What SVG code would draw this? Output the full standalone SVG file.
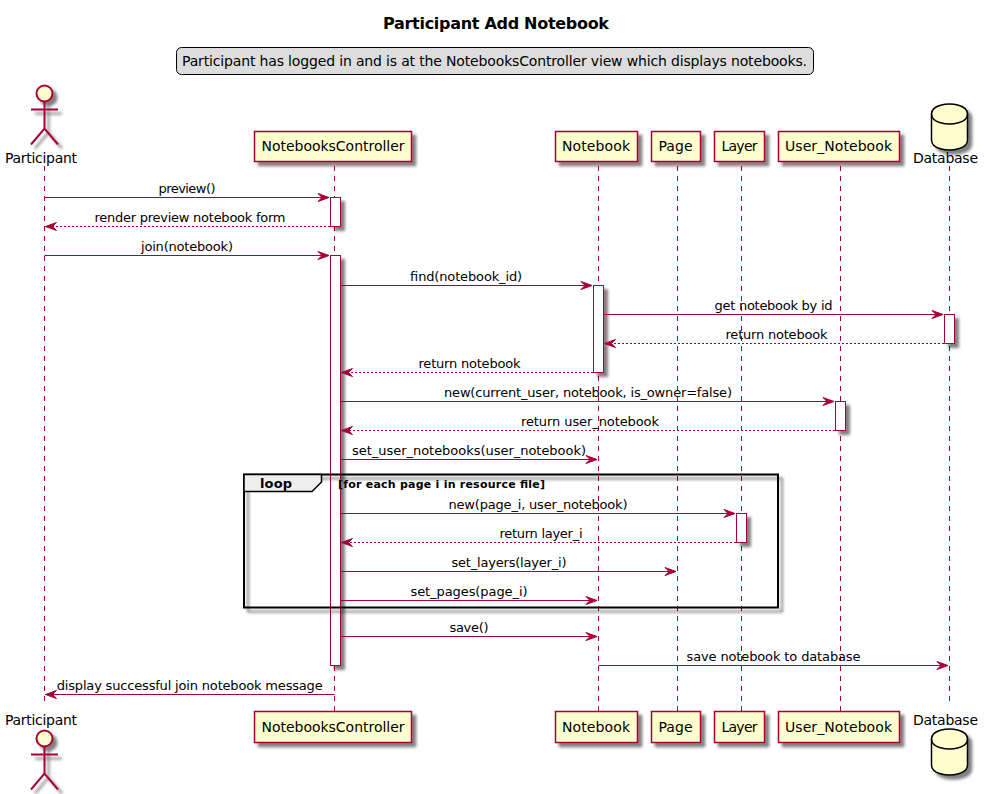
<svg xmlns="http://www.w3.org/2000/svg" width="985" height="794" viewBox="0 0 985 794">
<style>
text{font-family:"DejaVu Sans",sans-serif;fill:#000}
.m{font-size:13px;text-anchor:middle}
.p{font-size:14px;text-anchor:middle}
.box{fill:#FEFECE;stroke:#A80036;stroke-width:1.5}
.act{fill:#fff;stroke:#A80036;stroke-width:1}
.life{stroke:#A80036;stroke-width:1;stroke-dasharray:5,5;fill:none}
.msg{stroke:#A80036;stroke-width:1;fill:none;marker-end:url(#ah)}
.ret{stroke-dasharray:2,2}
.stick{fill:none;stroke:#A80036;stroke-width:2}
.head{fill:#FEFECE;stroke:#A80036;stroke-width:2}
.db{fill:#FEFECE;stroke:#000;stroke-width:1.5}
.dbl{fill:none;stroke:#000;stroke-width:1.5}
</style>
<defs>
<filter id="sh" x="-30%" y="-30%" width="170%" height="170%"><feGaussianBlur in="SourceAlpha" stdDeviation="1.7"/><feOffset dx="4" dy="4"/><feComponentTransfer><feFuncA type="linear" slope="0.5"/></feComponentTransfer><feMerge><feMergeNode/><feMergeNode in="SourceGraphic"/></feMerge></filter>
<marker id="ah" markerUnits="userSpaceOnUse" markerWidth="14" markerHeight="12" viewBox="-12 -6 14 12" refX="0" refY="0" orient="auto"><polygon points="-11,-4 0,0 -11,4 -7,0" fill="#A80036" stroke="#A80036" stroke-width="1"/></marker>
<g id="stickfig" filter="url(#sh)"><circle class="head" cx="0" cy="0" r="8"/><path class="stick" d="M0,8V35M-13.5,16H13.5M-13.5,51L0,35L13.5,51"/></g>
<g id="cyl"><path d="M0,10C0,0 18,0 18,0C18,0 36,0 36,10V36C36,46 18,46 18,46C18,46 0,46 0,36Z" class="db" filter="url(#sh)"/><path d="M0,10C0,20 18,20 18,20C18,20 36,20 36,10" class="dbl"/></g>
</defs>
<rect width="985" height="794" fill="#fff"/>
<text id="title" x="496" y="29" font-weight="bold" text-anchor="middle" style="font-size:16px" textLength="226">Participant Add Notebook</text>
<g id="legend"><rect x="176.5" y="47.5" width="637" height="27" rx="5" fill="#DDD" stroke="#000"/><text x="182" y="66" font-size="14" textLength="625">Participant has logged in and is at the NotebooksController view which displays notebooks.</text></g>
<g id="lifelines">
<path class="life" d="M44.5,166V706M334.5,166V711M598.5,166V711M677.5,166V711M741.5,166V711M840.5,166V711M949.5,166V706"/>
</g>
<g id="activations" filter="url(#sh)">
<rect class="act" x="330.5" y="197.5" width="10" height="29"/>
<rect class="act" x="330.5" y="255.5" width="10" height="410"/>
<rect class="act" x="593.5" y="285.5" width="10" height="87"/>
<rect class="act" x="944.5" y="314.5" width="10" height="29"/>
<rect class="act" x="835.5" y="401.5" width="10" height="29"/>
<rect class="act" x="736.5" y="513.5" width="10" height="29"/>
</g>
<g id="loop">
<rect x="244" y="474.5" width="534" height="133" fill="none" stroke="#000" stroke-width="2" filter="url(#sh)"/>
<path d="M244,474.5H321.5V482L312,491.5H244Z" fill="#EEE" stroke="#000" stroke-width="1.5"/>
<text x="260" y="488" font-size="13" font-weight="bold" textLength="32">loop</text>
<text x="338" y="488" font-size="11" font-weight="bold" textLength="207">[for each page i in resource file]</text>
</g>
<g id="connectors">
<path class="msg" d="M44.5,197.5H329"/>
<path class="msg ret" d="M330,226.5H45.5"/>
<path class="msg" d="M44.5,255.5H329"/>
<path class="msg" d="M340.5,285.5H592"/>
<path class="msg" d="M603.5,314.5H943"/>
<path class="msg ret" d="M944,343.5H604.5"/>
<path class="msg ret" d="M593,372.5H341.5"/>
<path class="msg" d="M340.5,401.5H834"/>
<path class="msg ret" d="M835,430.5H341.5"/>
<path class="msg" d="M340.5,459.5H597"/>
<path class="msg" d="M340.5,513.5H735"/>
<path class="msg ret" d="M736,542.5H341.5"/>
<path class="msg" d="M340.5,571.5H676"/>
<path class="msg" d="M340.5,600.5H597"/>
<path class="msg" d="M340.5,636.5H597"/>
<path class="msg" d="M598.5,665.5H948"/>
<path class="msg" d="M334.5,694.5H45.5"/>
</g>
<g id="labels">
<text class="m" x="187" y="192.5" textLength="57">preview()</text>
<text class="m" x="190" y="221.5" textLength="191">render preview notebook form</text>
<text class="m" x="187" y="250.5" textLength="92">join(notebook)</text>
<text class="m" x="466" y="280.5" textLength="112">find(notebook_id)</text>
<text class="m" x="773.5" y="309.5" textLength="118">get notebook by id</text>
<text class="m" x="776.5" y="338.5" textLength="102">return notebook</text>
<text class="m" x="469.5" y="367.5" textLength="102">return notebook</text>
<text class="m" x="588" y="396.5" textLength="288">new(current_user, notebook, is_owner=false)</text>
<text class="m" x="590" y="425.5" textLength="138">return user_notebook</text>
<text class="m" x="469" y="454.5" textLength="234">set_user_notebooks(user_notebook)</text>
<text class="m" x="538" y="508.5" textLength="179">new(page_i, user_notebook)</text>
<text class="m" x="541" y="537.5" textLength="83">return layer_i</text>
<text class="m" x="509" y="566.5" textLength="115">set_layers(layer_i)</text>
<text class="m" x="469" y="595.5" textLength="117">set_pages(page_i)</text>
<text class="m" x="469" y="631.5" textLength="39">save()</text>
<text class="m" x="773.5" y="660.5" textLength="174">save notebook to database</text>
<text class="m" x="189.7" y="689.5" textLength="266">display successful join notebook message</text>
</g>
<g id="participant-top"><use href="#stickfig" x="44.5" y="93.5"/><text class="p" x="41" y="163" textLength="72">Participant</text></g>
<g id="participant-bottom"><use href="#stickfig" x="44.5" y="738.5"/><text class="p" x="41" y="725" textLength="72">Participant</text></g>
<g id="controller-top"><rect class="box" filter="url(#sh)" x="254.5" y="131.5" width="157" height="30"/><text class="p" x="333" y="151" textLength="143">NotebooksController</text></g>
<g id="controller-bottom"><rect class="box" filter="url(#sh)" x="254.5" y="711.5" width="157" height="31"/><text class="p" x="333" y="732" textLength="143">NotebooksController</text></g>
<g id="notebook-top"><rect class="box" filter="url(#sh)" x="555.5" y="131.5" width="82" height="30"/><text class="p" x="596" y="151" textLength="68">Notebook</text></g>
<g id="notebook-bottom"><rect class="box" filter="url(#sh)" x="555.5" y="711.5" width="82" height="31"/><text class="p" x="596" y="732" textLength="68">Notebook</text></g>
<g id="page-top"><rect class="box" filter="url(#sh)" x="651.5" y="131.5" width="49" height="30"/><text class="p" x="675.5" y="151" textLength="34">Page</text></g>
<g id="page-bottom"><rect class="box" filter="url(#sh)" x="651.5" y="711.5" width="49" height="31"/><text class="p" x="675.5" y="732" textLength="34">Page</text></g>
<g id="layer-top"><rect class="box" filter="url(#sh)" x="714.5" y="131.5" width="50" height="30"/><text class="p" x="739.5" y="151" textLength="36">Layer</text></g>
<g id="layer-bottom"><rect class="box" filter="url(#sh)" x="714.5" y="711.5" width="50" height="31"/><text class="p" x="739.5" y="732" textLength="36">Layer</text></g>
<g id="user-notebook-top"><rect class="box" filter="url(#sh)" x="778.5" y="131.5" width="121" height="30"/><text class="p" x="838.5" y="151" textLength="107">User_Notebook</text></g>
<g id="user-notebook-bottom"><rect class="box" filter="url(#sh)" x="778.5" y="711.5" width="121" height="31"/><text class="p" x="838.5" y="732" textLength="107">User_Notebook</text></g>
<g id="database-top"><use href="#cyl" x="931.5" y="104"/><text class="p" x="945.5" y="163" textLength="65">Database</text></g>
<g id="database-bottom"><use href="#cyl" x="931.5" y="729"/><text class="p" x="945.5" y="725" textLength="65">Database</text></g>
</svg>
